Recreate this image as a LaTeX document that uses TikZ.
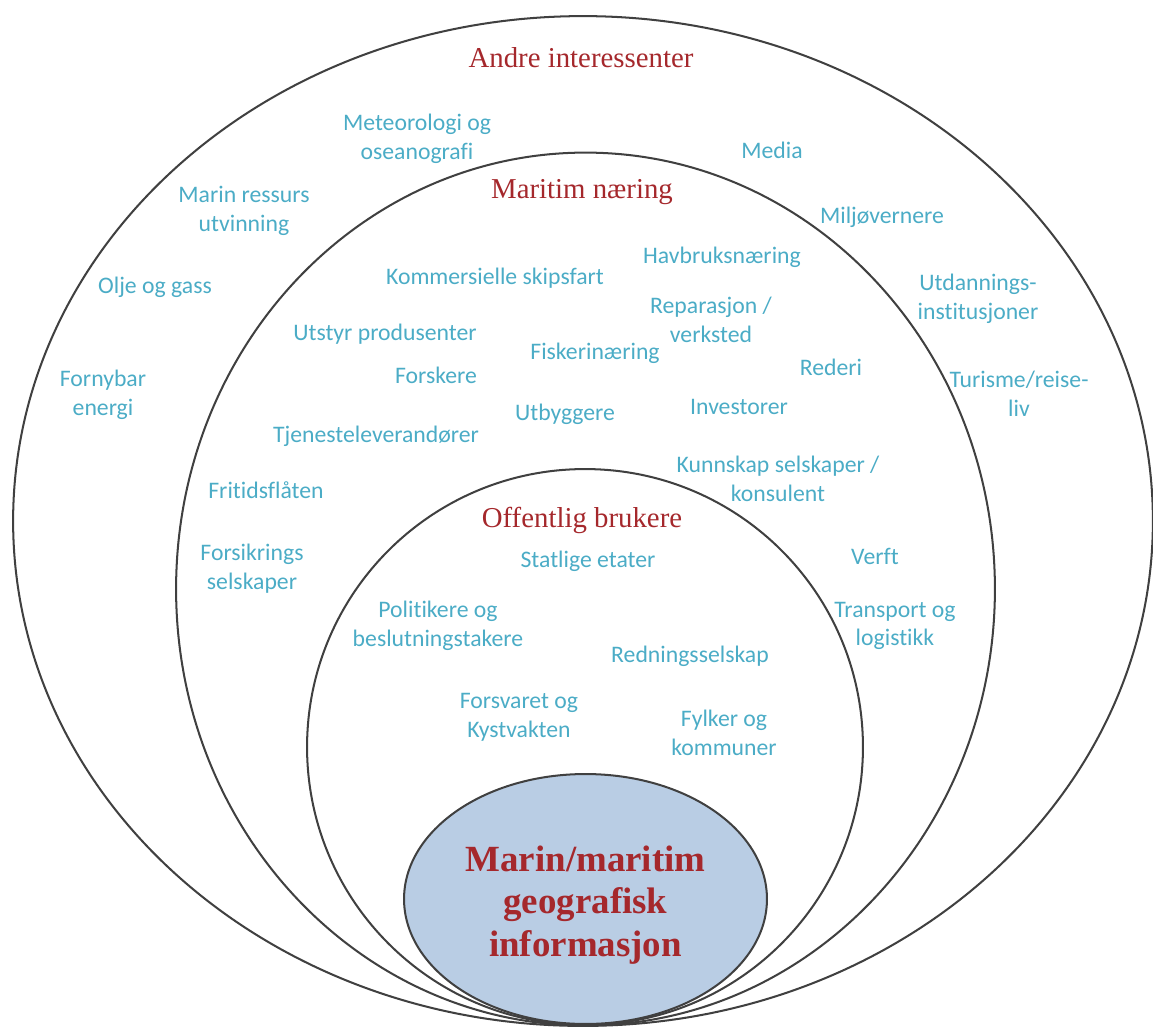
\documentclass[tikz,border=0pt]{standalone}
\usepackage{fontspec}
\usepackage{tikz}
\setmainfont{Liberation Serif}
\newfontfamily\labelfont[Ligatures=NoCommon]{Carlito}

\definecolor{ringgray}{RGB}{64,64,64}
\definecolor{headred}{RGB}{165,40,44}
\definecolor{lblblue}{RGB}{75,172,198}
\definecolor{corefill}{RGB}{185,205,228}

\begin{document}
\begin{tikzpicture}[x=0.02cm, y=-0.02cm, line width=1.15pt,
    ring/.style={draw=ringgray},
    head/.style={text=headred,font=\fontsize{16.4}{19}\selectfont,inner sep=0pt},
    lbl/.style={align=center,text=lblblue,inner sep=0pt,
        font=\labelfont\fontsize{13.5}{16.4}\selectfont},]

\useasboundingbox (0,0) rectangle (1153,1029);

% the four rings
\draw[ring] (583,521) ellipse [x radius=11.4cm, y radius=10.1cm];
\draw[ring] (585.5,589) ellipse [x radius=8.19cm, y radius=8.73cm];
\draw[ring] (585,747) ellipse [x radius=5.56cm, y radius=5.56cm];
\draw[ring,fill=corefill] (585.5,899) ellipse [x radius=3.63cm, y radius=2.5cm];

\node[text=headred,align=center,font=\bfseries\fontsize{21}{24.4}\selectfont]
    (core) at (585.5,905) {Marin/maritim\\geografisk\\informasjon};

% outer ring
\node[head] (andre) at (581,58) {Andre interessenter};
\node[lbl] (meteo) at (417,139) {Meteorologi og\\oseanografi};
\node[lbl] (media) at (772,150) {Media};
\node[lbl] (marin) at (244,211) {Marin ressurs\\utvinning};
\node[lbl] (miljo) at (882,217) {Miljøvernere};
\node[lbl] (olje) at (155,287) {Olje og gass};
\node[lbl] (utdann) at (978,299) {Utdannings-\\institusjoner};
\node[lbl] (forny) at (103,395) {Fornybar\\energi};
\node[lbl] (turisme) at (1019,394) {Turisme/reise-\\liv};

% middle ring
\node[head] (maritim) at (582,192) {Maritim næring};
\node[lbl] (havbruk) at (722,257) {Havbruksnæring};
\node[lbl] (komm) at (495,278) {Kommersielle skipsfart};
\node[lbl] (repar) at (711,320) {Reparasjon /\\verksted};
\node[lbl] (utstyr) at (385,334) {Utstyr produsenter};
\node[lbl] (fiske) at (595,353) {Fiskerinæring};
\node[lbl] (rederi) at (831,367) {Rederi};
\node[lbl] (forsk) at (436,375) {Forskere};
\node[lbl] (invest) at (739,407) {Investorer};
\node[lbl] (utbygg) at (565,414) {Utbyggere};
\node[lbl] (tjen) at (376,436) {Tjenesteleverandører};
\node[lbl] (kunn) at (778,479) {Kunnskap selskaper /\\konsulent};
\node[lbl] (fritid) at (266,490) {Fritidsflåten};
\node[lbl] (forsik) at (252,569) {Forsikrings\\selskaper};
\node[lbl] (verft) at (875,556) {Verft};
\node[lbl] (transp) at (895,626) {Transport og\\logistikk};

% inner ring
\node[head] (offentlig) at (582,520) {Offentlig brukere};
\node[lbl] (statlig) at (588,561) {Statlige etater};
\node[lbl] (polit) at (438,626) {Politikere og\\beslutningstakere};
\node[lbl] (redning) at (690,656) {Redningsselskap};
\node[lbl] (forsvar) at (519,717) {Forsvaret og\\Kystvakten};
\node[lbl] (fylker) at (724,733) {Fylker og\\kommuner};

\end{tikzpicture}
\end{document}
